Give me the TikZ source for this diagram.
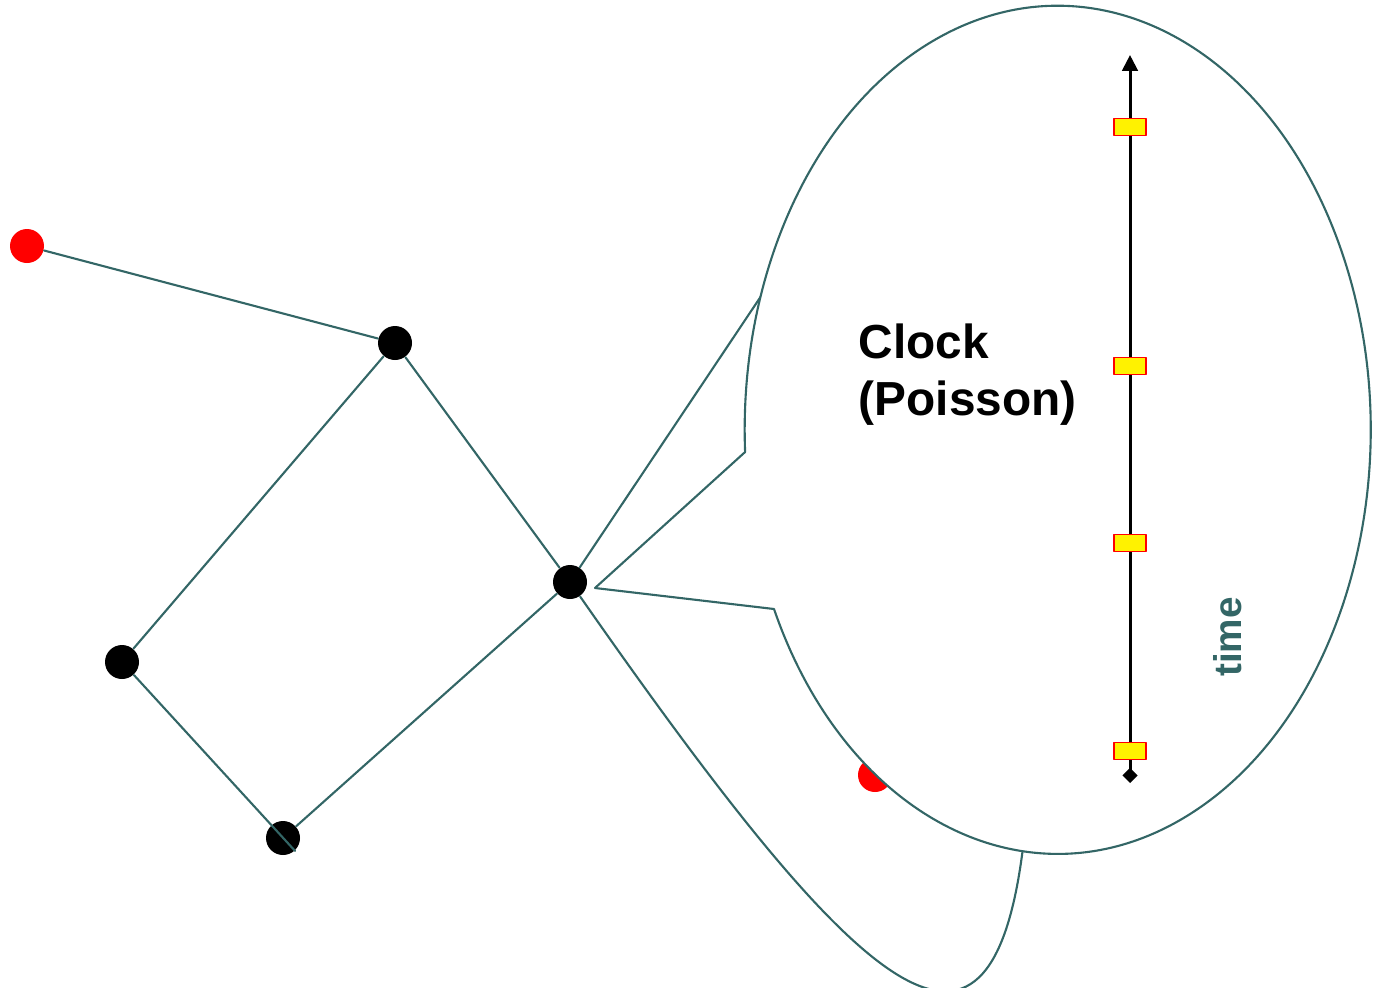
\documentclass[tikz,border=0pt]{standalone}
\usepackage{fontspec}
\setmainfont{Liberation Sans}
\usetikzlibrary{arrows.meta}
\definecolor{edgeteal}{RGB}{51,102,102}

\begin{document}
\begin{tikzpicture}[x=1cm,y=1cm,line cap=round,line join=round,
  link/.style={draw=edgeteal,line width=0.6pt},
  vertex/.style={circle,fill=black,minimum size=0.34cm,inner sep=0pt},
  seed/.style={vertex,fill=red},
  stamp/.style={draw=red,fill=yellow,line width=0.5pt,minimum width=0.32cm,minimum height=0.17cm,inner sep=0pt}]
\useasboundingbox (0,0) rectangle (13.77,-9.87);

% graph
\node[seed] (r1) at (0.27,-2.46) {};
\node[seed] (r2) at (8.75,-7.75) {};
\node[vertex] (a) at (3.95,-3.43) {};
\node[vertex] (b) at (5.70,-5.82) {};
\node[vertex] (c) at (1.22,-6.62) {};
\node[vertex] (d) at (2.83,-8.38) {};
\coordinate (u) at (8.30,-1.93);
\coordinate (v) at (10.25,-8.30);

\draw[link] (r1) -- (a);
\draw[link] (a) -- (c);
\draw[link] (a) -- (b);
\draw[link] (d) -- (b);
\draw[link] (b) -- (u);
\draw[link] (b) .. controls (8.65,-10.05) and (9.95,-11.20) .. (v);
\draw[link] (c) -- (d.-47);

% callout with the clock
\coordinate (tip) at (5.95,-5.88);
\draw[link,fill=white] (tip) -- (7.74,-6.09)
  arc[start angle=205,end angle=543,x radius=3.13,y radius=4.24] -- cycle;

\coordinate (t0) at (11.30,-7.83);
\coordinate (t1) at (11.30,-0.55);
\draw[line width=0.85pt,{Diamond[length=4.3pt,width=4.3pt]}-{Triangle[length=4.5pt,width=4.4pt]}] (t0) -- (t1);
\foreach \y [count=\i] in {1.27,3.66,5.43,7.51}
  \node[stamp] (s\i) at (11.30,-\y) {};

\node[anchor=north west,align=left,inner sep=0pt,font=\fontsize{13.6}{16.2}\selectfont\bfseries] (clock) at (8.58,-3.23) {Clock\\(Poisson)};
\node[rotate=90,text=edgeteal,font=\fontsize{11}{13}\selectfont\bfseries] (time) at (12.28,-6.37) {time};
\end{tikzpicture}
\end{document}
